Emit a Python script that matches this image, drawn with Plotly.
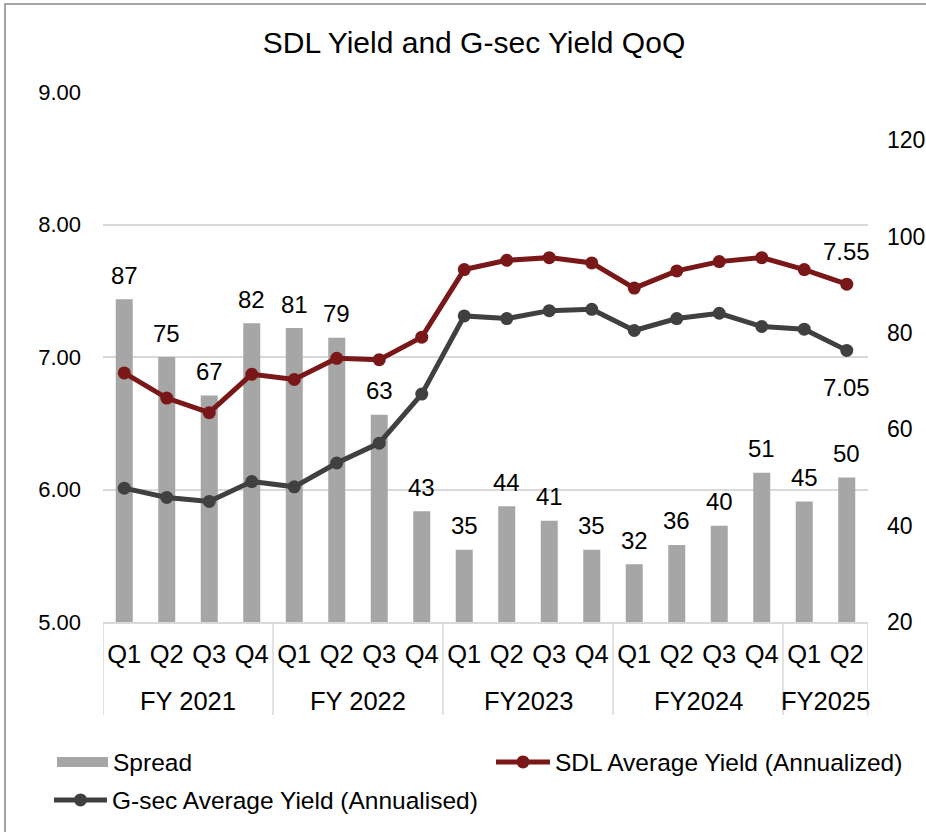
import plotly.graph_objects as go

quarters = ["Q1", "Q2", "Q3", "Q4", "Q1", "Q2", "Q3", "Q4", "Q1", "Q2", "Q3", "Q4",
            "Q1", "Q2", "Q3", "Q4", "Q1", "Q2"]
fy_labels = ["FY 2021", "FY 2022", "FY2023", "FY2024", "FY2025"]
fy_sizes = [4, 4, 4, 4, 2]
spread = [87, 75, 67, 82, 81, 79, 63, 43, 35, 44, 41, 35, 32, 36, 40, 51, 45, 50]
sdl_yield = [6.88, 6.69, 6.58, 6.87, 6.83, 6.99, 6.98, 7.15, 7.66, 7.73, 7.75, 7.71,
             7.52, 7.65, 7.72, 7.75, 7.66, 7.55]
gsec_yield = [6.01, 5.94, 5.91, 6.06, 6.02, 6.20, 6.35, 6.72, 7.31, 7.29, 7.35, 7.36,
              7.20, 7.29, 7.33, 7.23, 7.21, 7.05]

FONT = "Liberation Sans, Arial, sans-serif"
SDL_COLOR = "#7A1718"
GSEC_COLOR = "#404040"
BAR_COLOR = "#A6A6A6"
GRID_COLOR = "#D9D9D9"

W, H = 926, 832
L, R, T, B = 103, 58, 92, 210
PW, PH = W - L - R, H - T - B

x = list(range(len(quarters)))

fig = go.Figure()

fig.add_trace(go.Bar(x = x, y = spread, name = "Spread", width = 0.4, yaxis = "y", showlegend = False,
                     marker = {'color': BAR_COLOR, 'line': {'width': 0}}))
# legend-only entry so the Spread swatch is drawn as a wide bar like the original
fig.add_trace(go.Scatter(x = [None], y = [None], name = "Spread", mode = "lines", yaxis = "y",
                         line = {'color': BAR_COLOR, 'width': 10}, legend = "legend"))
fig.add_trace(go.Scatter(x = x, y = sdl_yield, name = "SDL Average Yield (Annualized)", yaxis = "y2",
                         mode = "lines+markers", line = {'color': SDL_COLOR, 'width': 5},
                         marker = {'color': SDL_COLOR, 'size': 13}, legend = "legend2"))
fig.add_trace(go.Scatter(x = x, y = gsec_yield, name = "G-sec Average Yield (Annualised)", yaxis = "y2",
                         mode = "lines+markers", line = {'color': GSEC_COLOR, 'width': 5},
                         marker = {'color': GSEC_COLOR, 'size': 13}, legend = "legend3"))

annotations = []
# spread labels above bars
for xi, v in zip(x, spread):
    annotations.append(dict(x = xi, y = v, xref = "x", yref = "y", text = str(v), showarrow = False,
                            yanchor = "middle", yshift = 24, font = dict(size = 24, color = "black")))
# last-point labels of the two yield lines
annotations.append(dict(x = x[-1], y = sdl_yield[-1], xref = "x", yref = "y2", text = f"{sdl_yield[-1]:.2f}",
                        showarrow = False, yanchor = "middle", yshift = 33, font = dict(size = 24, color = "black")))
annotations.append(dict(x = x[-1], y = gsec_yield[-1], xref = "x", yref = "y2", text = f"{gsec_yield[-1]:.2f}",
                        showarrow = False, yanchor = "middle", yshift = -37, font = dict(size = 24, color = "black")))

# fiscal year group labels and dividers
shapes = []
start = 0
div_bottom = -(715 - (H - B)) / PH
for label, n in zip(fy_labels, fy_sizes):
    center = start + (n - 1) / 2
    annotations.append(dict(x = center, y = -(701 - (H - B)) / PH, xref = "x", yref = "paper", text = label,
                            showarrow = False, yanchor = "middle", font = dict(size = 25.5, color = "black")))
    shapes.append(dict(type = "line", xref = "x", yref = "paper", x0 = start - 0.5, x1 = start - 0.5,
                       y0 = 0, y1 = div_bottom, line = dict(color = GRID_COLOR, width = 1.5)))
    start += n
shapes.append(dict(type = "line", xref = "x", yref = "paper", x0 = start - 0.5, x1 = start - 0.5,
                   y0 = 0, y1 = div_bottom, line = dict(color = GRID_COLOR, width = 1.5)))

# outer chart border (only top and left visible in the crop)
shapes.append(dict(type = "rect", xref = "paper", yref = "paper", x0 = (5 - L) / PW, x1 = 1.3,
                   y0 = -0.6, y1 = ((H - B) - 4) / PH, line = dict(color = "#A6A6A6", width = 2)))

fig.update_layout(
    width = W, height = H, autosize = False,
    margin = dict(l = L, r = R, t = T, b = B, autoexpand = False),
    paper_bgcolor = "white", plot_bgcolor = "white",
    font = dict(family = FONT, size = 23, color = "black"),
    showlegend = True,
    title = dict(text = "SDL Yield and G-sec Yield QoQ", x = 474 / W, xref = "container", xanchor = "center",
                 y = 1 - 42 / H, yref = "container", yanchor = "middle", font = dict(size = 30, color = "black")),
    xaxis = dict(range = [-0.5, len(x) - 0.5], tickmode = "array", tickvals = x, ticktext = quarters,
                 showgrid = False, zeroline = False, showline = True, linecolor = GRID_COLOR, linewidth = 1.5,
                 ticks = "", tickfont = dict(size = 25.5), ticklabelstandoff = 9, automargin = False),
    yaxis = dict(range = [20, 130], tickmode = "array", side = "right", automargin = False,
                 showgrid = False, zeroline = False, showline = False, ticks = "",
                 tickvals = [20, 40, 60, 80, 100, 120], ticklabelstandoff = 18),
    yaxis2 = dict(range = [5, 9], dtick = 1, tickformat = ".2f", overlaying = "y", side = "left",
                  showgrid = True, gridcolor = GRID_COLOR, gridwidth = 1.5, zeroline = False, automargin = False,
                  showline = False, ticks = "", ticklabelstandoff = 21, tickfont = dict(size = 22)),
    legend = dict(x = 52 / W, y = 1 - 762 / H, xref = "container", yref = "container", xanchor = "left",
                  yanchor = "middle", itemwidth = 51, font = dict(size = 24.5)),
    legend2 = dict(x = 491 / W, y = 1 - 762 / H, xref = "container", yref = "container", xanchor = "left",
                   yanchor = "middle", itemwidth = 54, font = dict(size = 24.5)),
    legend3 = dict(x = 49 / W, y = 1 - 800 / H, xref = "container", yref = "container", xanchor = "left",
                   yanchor = "middle", itemwidth = 53, font = dict(size = 24.5)),
    annotations = annotations,
    shapes = shapes,
    hovermode = False,
)

fig.write_html("out.html", config = {'displayModeBar': False},
               post_script = "document.body.style.margin = '0px';")
